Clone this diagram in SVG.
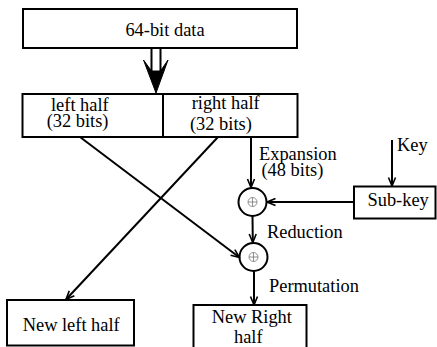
<svg xmlns="http://www.w3.org/2000/svg" width="437" height="347" viewBox="0 0 437 347">
<style>
.box{fill:#fff;stroke:#000;stroke-width:2}
.ln{fill:none;stroke:#000;stroke-width:2}
.t{font-family:"Liberation Serif","Times New Roman",serif;font-size:18.4px;fill:#000}
.xo{fill:none;stroke:#777;stroke-width:0.8}
</style>
<defs>
<marker id="ah" viewBox="-10 -5 11 10" refX="0" refY="0" markerWidth="11" markerHeight="10" markerUnits="userSpaceOnUse" orient="auto">
<path d="M-8.5,-3.5 L0,0 L-8.5,3.5" fill="none" stroke="#000" stroke-width="1.6"/>
</marker>
</defs>
<rect width="437" height="347" fill="#fff"/>
<g id="data64">
<rect class="box" x="23" y="9" width="274" height="39"/>
<text class="t" x="165" y="35.5" text-anchor="middle">64-bit data</text>
</g>
<g id="halves">
<rect class="box" x="22.5" y="94" width="275" height="43"/>
<line class="ln" x1="163" y1="94" x2="163" y2="137"/>
<text class="t" x="51" y="110.5">left half</text>
<text class="t" x="46.7" y="127">(32 bits)</text>
<text class="t" x="191.7" y="109">right half</text>
<text class="t" x="190" y="129.5">(32 bits)</text>
</g>
<g id="subkey">
<rect class="box" x="354" y="186.5" width="81.5" height="32"/>
<text class="t" x="367.5" y="206">Sub-key</text>
</g>
<g id="xor1">
<circle class="box" cx="252.5" cy="202" r="14"/>
<circle class="xo" cx="252.5" cy="202" r="4.5"/>
<path class="xo" d="M248,202 H257 M252.5,197.5 V206.5"/>
</g>
<g id="xor2">
<circle class="box" cx="253.5" cy="257" r="14"/>
<circle class="xo" cx="253.5" cy="257" r="4.5"/>
<path class="xo" d="M249,257 H258 M253.5,252.5 V261.5"/>
</g>
<g id="newleft">
<rect class="box" x="7" y="300" width="127" height="45.5"/>
<text class="t" x="22.7" y="331">New left half</text>
</g>
<g id="newright">
<rect class="box" x="193.5" y="305" width="113" height="50"/>
<text class="t" x="211.7" y="323">New Right</text>
<text class="t" x="234" y="343">half</text>
</g>
<g id="connectors">
<path d="M151.5,48 V71 M160.5,48 V71" class="ln"/>
<path d="M143.5,60 L151.5,71 L160.5,71 L168,60 L156,93 Z" fill="#000" stroke="#000" stroke-width="1"/>
<line class="ln" x1="251" y1="137" x2="251" y2="187.5" marker-end="url(#ah)"/>
<line class="ln" x1="252.5" y1="216" x2="252.8" y2="242.5" marker-end="url(#ah)"/>
<line class="ln" x1="254" y1="271" x2="254" y2="305" marker-end="url(#ah)"/>
<line class="ln" x1="392" y1="140" x2="392" y2="186" marker-end="url(#ah)"/>
<line class="ln" x1="354" y1="202" x2="267" y2="202" marker-end="url(#ah)"/>
<line class="ln" x1="80" y1="137" x2="239.5" y2="257.5" marker-end="url(#ah)"/>
<line class="ln" x1="218" y1="137" x2="66" y2="299.5" marker-end="url(#ah)"/>
<text class="t" x="259" y="159.5">Expansion</text>
<text class="t" x="261.5" y="176">(48 bits)</text>
<text class="t" x="397" y="151">Key</text>
<text class="t" x="267" y="238">Reduction</text>
<text class="t" x="269" y="292">Permutation</text>
</g>
</svg>
